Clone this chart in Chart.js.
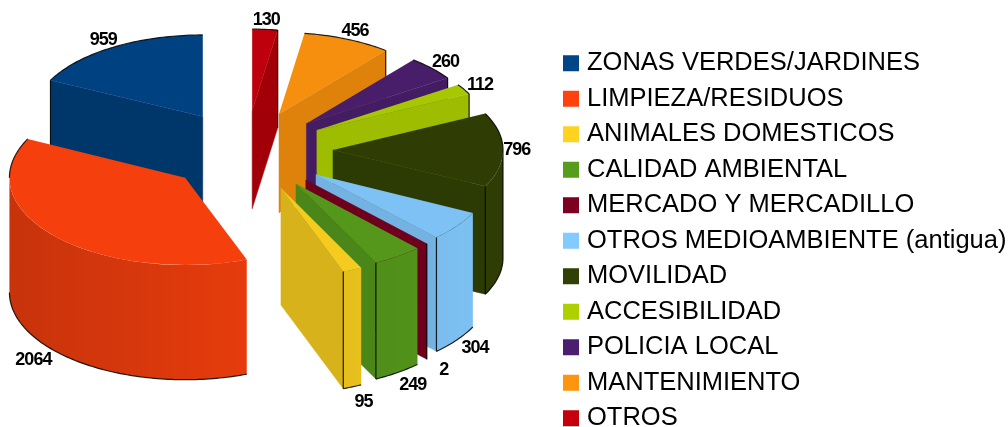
<!DOCTYPE html>
<html><head><meta charset="utf-8">
<style>html,body{margin:0;padding:0;background:#fff;overflow:hidden}#w{width:1008px;height:427px;position:relative}</style>
<script src="https://cdn.jsdelivr.net/npm/chart.js@4/dist/chart.umd.min.js"></script>
</head><body><div id="w"><canvas id="c"></canvas></div>
<script>
const categories = ["ZONAS VERDES/JARDINES","LIMPIEZA/RESIDUOS","ANIMALES DOMESTICOS","CALIDAD AMBIENTAL","MERCADO Y MERCADILLO","OTROS MEDIOAMBIENTE (antigua)","MOVILIDAD","ACCESIBILIDAD","POLICIA LOCAL","MANTENIMIENTO","OTROS"];
const values = [959,2064,95,249,2,304,796,112,260,456,130];
const colors = ["#004586","#ff420e","#ffd320","#579d1c","#7e0021","#83caff","#314004","#aecf00","#4b1f6f","#ff950e","#c5000b"];

function shade(hex,f){
  const n=parseInt(hex.slice(1),16);
  return `rgb(${Math.round((n>>16)*f)},${Math.round(((n>>8)&255)*f)},${Math.round((n&255)*f)})`;
}
const VIEW={cx:246,cy:150,rx:170,tilt:0.48,explode:82};
const LEGEND={font:25.5,box:16,gap:8,textX:587,shiftY:14,pad:10};
// Perspective helpers: slices nearer the viewer are a little larger and further out.
const geom=(sm,cm)=>{
  const front=Math.max(0,sm);
  const rx=VIEW.rx*(1+0.05*front);
  const ry=VIEW.rx*(VIEW.tilt+0.05*front);
  const depth=108+10*sm;
  const lx=VIEW.cx+VIEW.explode*cm;
  const ax=lx+((sm>=-0.01&&cm>0)?5*cm:0);
  const ay=VIEW.cy+VIEW.explode*sm*VIEW.tilt+2*front;
  return {rx,ry,depth,lx,ax,ay};
};

const pie3d={
  id:'pie3d',
  afterLayout(chart){
    const lg=chart.legend;
    const dx=LEGEND.textX-(lg.left+LEGEND.pad+LEGEND.box+LEGEND.font/2);
    lg.left+=dx;lg.right+=dx;lg.top+=LEGEND.shiftY;lg.bottom+=LEGEND.shiftY;
    lg.adjustHitBoxes();
  },
  afterDraw(chart){
    const lg=chart.legend,ctx=chart.ctx;
    lg.legendHitBoxes.forEach((h,i)=>{
      ctx.fillStyle=colors[i];
      ctx.fillRect(LEGEND.textX-LEGEND.gap-LEGEND.box,h.top+(h.height-LEGEND.box)/2,LEGEND.box,LEGEND.box);
    });
  },
  beforeDatasetsDraw(chart){
    const ctx=chart.ctx, meta=chart.getDatasetMeta(0), n=values.length;
    const items=meta.data.map((el,i)=>{
      const mid=(el.startAngle+el.endAngle)/2;
      return {el,i,mid,sm:Math.sin(mid),cm:Math.cos(mid),orig:n-1-i};
    }).sort((a,b)=>a.sm-b.sm);
    for(const it of items){
      const {el,sm,cm,orig}=it;
      if(el.circumference===0)continue;
      const base=colors[orig];
      const {rx,ry,depth,ax,ay}=geom(sm,cm);
      const sx=rx/el.outerRadius, sy=ry/el.outerRadius;
      const rim=(t,d=0)=>[ax+rx*Math.cos(t), ay+ry*Math.sin(t)+d];
      const a=el.startAngle,b=el.endAngle;
      const wall=(t,f)=>{
        const [x,y]=rim(t);
        ctx.beginPath();ctx.moveTo(ax,ay);ctx.lineTo(x,y);ctx.lineTo(x,y+depth);ctx.lineTo(ax,ay+depth);ctx.closePath();
        ctx.fillStyle=shade(base,f);ctx.fill();
        ctx.strokeStyle=shade(base,f);ctx.lineWidth=0.5;ctx.stroke();
      };
      ctx.save();
      const sVis=-Math.cos(a)>0.001, eVis=Math.cos(b)>0.001;
      if(sVis)wall(a,0.8);
      if(eVis)wall(b,0.8+0.12*Math.cos(b));
      const f0=Math.max(a,0), f1=Math.min(b,Math.PI);
      const arcPts=(t0,t1,d)=>{const p=[];const k=Math.max(2,Math.ceil((t1-t0)/0.02));for(let j=0;j<=k;j++)p.push(rim(t0+(t1-t0)*j/k,d));return p;};
      if(f1>f0){
        const top=arcPts(f0,f1,0), bot=arcPts(f0,f1,depth);
        ctx.beginPath();
        top.forEach((p,j)=>j?ctx.lineTo(p[0],p[1]):ctx.moveTo(p[0],p[1]));
        bot.slice().reverse().forEach(p=>ctx.lineTo(p[0],p[1]));
        ctx.closePath();
        const x0=rim(f0)[0],x1=rim(f1)[0];
        const g=ctx.createLinearGradient(x0,0,x1,0);
        for(let j=0;j<=8;j++){
          const c=Math.cos(f0)+(Math.cos(f1)-Math.cos(f0))*j/8;
          g.addColorStop(j/8,shade(base,0.87+0.09*c));
        }
        ctx.fillStyle=g;ctx.fill();
        ctx.strokeStyle='rgba(0,0,0,0.85)';ctx.lineWidth=1.2;
        ctx.beginPath();
        bot.forEach((p,j)=>j?ctx.lineTo(p[0],p[1]):ctx.moveTo(p[0],p[1]));
        ctx.stroke();
      }
      // top face through the library's own arc element
      ctx.save();
      ctx.setTransform(sx,0,0,sy,ax-sx*el.x,ay-sy*el.y);
      el.draw(ctx);
      ctx.restore();
      ctx.strokeStyle='rgba(0,0,0,0.85)';ctx.lineWidth=1.2;
      const backs=[[a,Math.min(b,0)],[Math.max(a,Math.PI),b]];
      for(const [t0,t1] of backs){
        if(t1<=t0)continue;
        ctx.beginPath();
        arcPts(t0,t1,0).forEach((p,j)=>j?ctx.lineTo(p[0],p[1]):ctx.moveTo(p[0],p[1]));
        ctx.stroke();
      }
      const vert=t=>{const [x,y]=rim(t);ctx.beginPath();ctx.moveTo(x,y);ctx.lineTo(x,y+depth);ctx.stroke();};
      if(sVis)vert(a);
      if(eVis)vert(b);
      if(a<=0&&b>=0)vert(0);
      ctx.restore();
    }
    ctx.save();
    ctx.setTransform(1,0,0,1,0,0);
    ctx.fillStyle='#000';ctx.font='bold 18px "Liberation Sans"';ctx.textAlign='center';ctx.textBaseline='middle';
    ctx.letterSpacing='-1px';
    for(const it of items){
      const {sm,cm,orig}=it;
      const {rx,ry,depth,lx,ay}=geom(sm,cm);
      const k=1.11+Math.max(0,sm)*0.08;
      ctx.fillText(String(values[orig]),lx+rx*k*cm,ay+ry*k*sm+(sm>0?depth:0));
    }
    ctx.restore();
    return false;
  }
};

new Chart(document.getElementById('c'),{
  type:'pie',
  data:{labels:[...categories].reverse(),datasets:[{
    data:[...values].reverse(),
    backgroundColor:[...colors].reverse().map(c=>shade(c,0.96)),
    borderWidth:0
  }]},
  options:{
    responsive:true,maintainAspectRatio:false,animation:false,
    layout:{padding:0},
    plugins:{
      tooltip:{enabled:false},
      legend:{
        position:'right',align:'end',
        labels:{
          boxWidth:LEGEND.box,boxHeight:LEGEND.box,padding:LEGEND.pad,color:'#000',
          font:{family:'"Liberation Sans"',size:LEGEND.font},
          generateLabels:()=>categories.map((t,i)=>({text:t,fillStyle:'rgba(0,0,0,0)',strokeStyle:'rgba(0,0,0,0)',lineWidth:0,hidden:false,index:i}))
        }
      }
    }
  },
  plugins:[pie3d]
});
</script></body></html>
